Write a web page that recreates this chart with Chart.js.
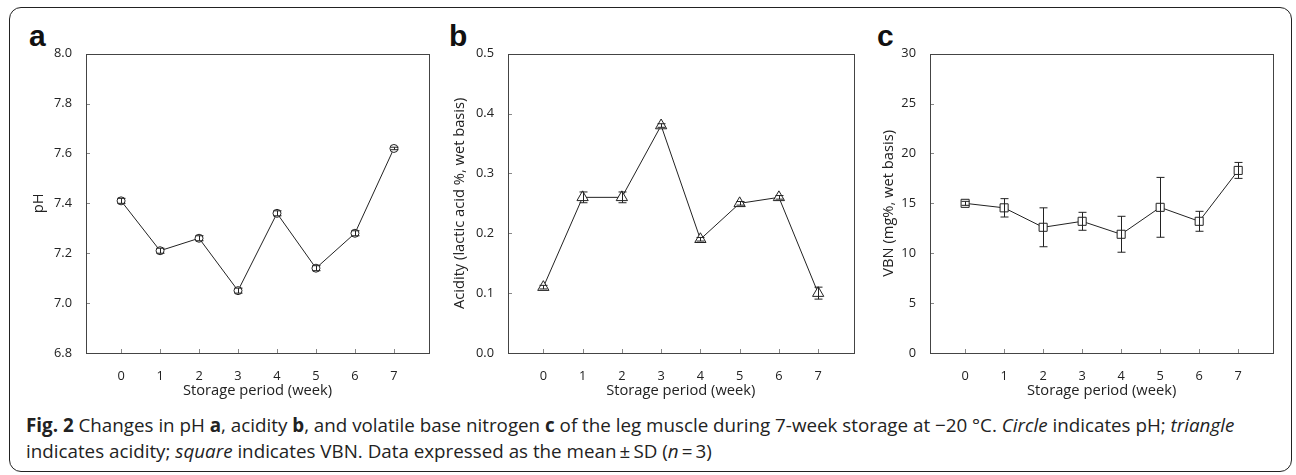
<!DOCTYPE html>
<html>
<head>
<meta charset="utf-8">
<script src="https://cdn.jsdelivr.net/npm/chart.js@4.4.1/dist/chart.umd.min.js"></script>
<style>
  body { margin: 0; background: #fff; width: 1296px; height: 475px; position: relative; overflow: hidden; }
  .frame { position: absolute; left: 9px; top: 7px; width: 1281px; height: 463px; border: 1.5px solid #222; border-radius: 12px; }
  .cv { position: absolute; top: 40px; height: 360px; }
  .tag { position: absolute; top: 19px; font: bold 30px "Liberation Sans", Arial, sans-serif; color: #111; }
  .caption { position: absolute; left: 26px; top: 412px; font: 18.8px "Open Sans", sans-serif; line-height: 26px; color: #222; white-space: nowrap; }
</style>
</head>
<body>
<div class="frame"></div>
<div class="tag" style="left:29px">a</div>
<div class="tag" style="left:449px">b</div>
<div class="tag" style="left:877px">c</div>
<canvas id="chartA" class="cv" style="left:30px;width:405px" width="405" height="360"></canvas>
<canvas id="chartB" class="cv" style="left:451px;width:410px" width="410" height="360"></canvas>
<canvas id="chartC" class="cv" style="left:880px;width:400px" width="400" height="360"></canvas>
<div class="caption"><b>Fig. 2</b> Changes in pH <b>a</b>, acidity <b>b</b>, and volatile base nitrogen <b>c</b> of the leg muscle during 7-week storage at −20 °C. <i>Circle</i> indicates pH; <i>triangle</i><br>indicates acidity; <i>square</i> indicates VBN. Data expressed as the mean&#8201;±&#8201;SD (<i>n</i>&#8201;=&#8201;3)</div>

<script>
// storage period (week)
var weeks = [0, 1, 2, 3, 4, 5, 6, 7];

// pH
var pH = [7.41, 7.21, 7.26, 7.05, 7.36, 7.14, 7.28, 7.62];
var pH_sd = [0.01, 0.01, 0.01, 0.01, 0.01, 0.01, 0.01, 0.005];
var pH_ticks = [6.8, 7.0, 7.2, 7.4, 7.6, 7.8, 8.0];

// acidity (lactic acid %, wet basis)
var acidity = [0.11, 0.26, 0.26, 0.38, 0.19, 0.25, 0.26, 0.10];
var acidity_sd = [0.003, 0.009, 0.009, 0.003, 0.003, 0.003, 0.003, 0.01];
var acidity_ticks = [0.0, 0.1, 0.2, 0.3, 0.4, 0.5];

// VBN (mg%, wet basis)
var vbn = [15.0, 14.55, 12.6, 13.2, 11.9, 14.6, 13.2, 18.3];
var vbn_sd = [0.2, 0.92, 1.95, 0.9, 1.8, 3.0, 1.0, 0.8];
var vbn_ticks = [0, 5, 10, 15, 20, 25, 30];


// error bars + inward ticks + full frame box
var extras = {
    id: 'extras',
    afterDatasetsDraw: function(chart, args, opts){
        var ctx = chart.ctx;
        var x = chart.scales.x, y = chart.scales.y;
        var ds = chart.data.datasets[0];
        ctx.save();
        ctx.strokeStyle = '#222';
        ctx.lineWidth = 1;
        for (var i = 0; i < ds.data.length; i++) {
            var p = ds.data[i];
            var sd = opts.sd[i];
            var px = Math.round(x.getPixelForValue(p.x)) + 0.5;
            var top = y.getPixelForValue(p.y + sd);
            var bot = y.getPixelForValue(p.y - sd);
            ctx.beginPath();
            ctx.moveTo(px, top); ctx.lineTo(px, bot);
            ctx.moveTo(px - opts.cap, top); ctx.lineTo(px + opts.cap, top);
            ctx.moveTo(px - opts.cap, bot); ctx.lineTo(px + opts.cap, bot);
            ctx.stroke();
        }
        ctx.restore();
    },
    afterDraw: function(chart){
        var ctx = chart.ctx;
        var a = chart.chartArea;
        var x = chart.scales.x, y = chart.scales.y;
        ctx.save();
        ctx.lineWidth = 1;
        ctx.strokeStyle = '#888';
        ctx.beginPath();
        x.ticks.forEach(function(t){
            var px = Math.round(x.getPixelForValue(t.value)) + 0.5;
            ctx.moveTo(px, a.bottom); ctx.lineTo(px, a.bottom - 4);
        });
        y.ticks.forEach(function(t){
            var py = Math.round(y.getPixelForValue(t.value)) + 0.5;
            ctx.moveTo(a.left, py); ctx.lineTo(a.left + 4, py);
        });
        ctx.stroke();
        ctx.strokeStyle = '#444';
        ctx.strokeRect(Math.round(a.left) + 0.5, Math.round(a.top) + 0.5,
                       Math.round(a.right - a.left), Math.round(a.bottom - a.top));
        ctx.restore();
    }
};

function makePanel(id, values, sd, yTicks, yTitle, yWidth, style, radius, decimals){
    var pts = [];
    for (var i = 0; i < weeks.length; i++) {
        pts.push({x: weeks[i], y: values[i]});
    }
    return new Chart(document.getElementById(id), {
        type: 'line',
        data: {
            datasets: [{
                data: pts,
                borderColor: '#222',
                borderWidth: 1,
                tension: 0,
                pointStyle: style,
                pointRadius: radius,
                pointHoverRadius: radius,
                pointBackgroundColor: '#fff',
                pointBorderColor: '#222',
                pointBorderWidth: 1
            }]
        },
        options: {
            responsive: false,
            animation: false,
            layout: { padding: { top: 12, right: 6, bottom: 0, left: 0 } },
            plugins: {
                legend: { display: false },
                tooltip: { enabled: false },
                extras: { sd: sd, cap: 4 }
            },
            scales: {
                x: {
                    type: 'linear',
                    min: -0.9,
                    max: 7.9,
                    afterBuildTicks: function(s){ s.ticks = weeks.map(function(v){ return {value: v}; }); },
                    afterFit: function(s){ s.height = 47; },
                    grid: { display: false },
                    border: { display: false },
                    ticks: { padding: 8, color: '#222', font: { family: 'Open Sans', size: 12.8 } },
                    title: { display: true, text: 'Storage period (week)', color: '#222',
                             padding: { top: 0, bottom: 0 }, font: { family: 'Open Sans', size: 14.7 } }
                },
                y: {
                    min: yTicks[0],
                    max: yTicks[yTicks.length - 1],
                    afterBuildTicks: function(s){ s.ticks = yTicks.map(function(v){ return {value: v}; }); },
                    afterFit: function(s){ s.width = yWidth; },
                    grid: { display: false },
                    border: { display: false },
                    ticks: {
                        padding: 6, color: '#222', font: { family: 'Open Sans', size: 12.8 },
                        callback: function(v){ return Number(v).toFixed(decimals); }
                    },
                    title: { display: true, text: yTitle, color: '#222',
                             padding: { top: 0, bottom: 0 }, font: { family: 'Open Sans', size: 14.7 } }
                }
            }
        },
        plugins: [extras]
    });
}

makePanel('chartA', pH, pH_sd, pH_ticks, 'pH', 56, 'circle', 4, 1);
makePanel('chartB', acidity, acidity_sd, acidity_ticks, 'Acidity (lactic acid %, wet basis)', 57, 'triangle', 6.5, 1);
makePanel('chartC', vbn, vbn_sd, vbn_ticks, 'VBN (mg%, wet basis)', 50, 'rect', 5.7, 0);
</script>
</body>
</html>
